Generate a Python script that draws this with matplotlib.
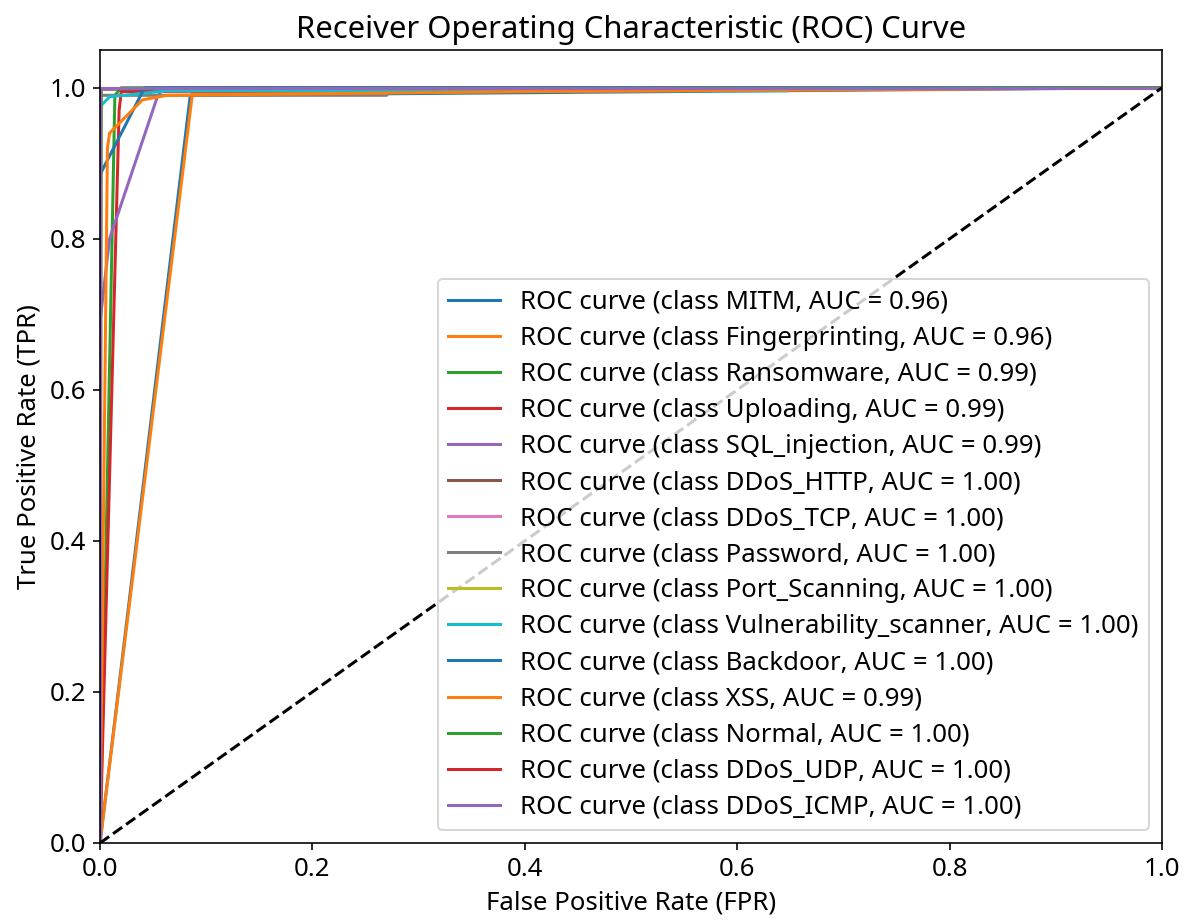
import matplotlib
matplotlib.use('Agg')
import matplotlib.pyplot as plt

plt.rcParams['font.family'] = ['Noto Sans', 'DejaVu Sans']
plt.rcParams['font.size'] = 12.8

# class names and AUC values shown in legend
classes = ['MITM', 'Fingerprinting', 'Ransomware', 'Uploading', 'SQL_injection',
           'DDoS_HTTP', 'DDoS_TCP', 'Password', 'Port_Scanning', 'Vulnerability_scanner',
           'Backdoor', 'XSS', 'Normal', 'DDoS_UDP', 'DDoS_ICMP']
aucs = [0.96, 0.96, 0.99, 0.99, 0.99, 1.00, 1.00, 1.00, 1.00, 1.00, 1.00, 0.99, 1.00, 1.00, 1.00]

# ROC points
fpr_mitm = [0, 0.085, 1]
tpr_mitm = [0, 0.99, 1]
fpr_finger = [0, 0.087, 0.40, 1]
tpr_finger = [0, 0.992, 0.995, 1]
fpr_ransom = [0, 0.003, 0.014, 0.02, 1]
tpr_ransom = [0, 0.2, 0.99, 1, 1]
fpr_upload = [0, 0.018, 0.02, 1]
tpr_upload = [0, 0.97, 0.995, 1]
fpr_sql = [0, 0, 0.009, 0.054, 0.06, 1]
tpr_sql = [0, 0.69, 0.80, 0.988, 1, 1]
fpr_http = [0, 0.001, 1]
tpr_http = [0, 0.998, 1]
fpr_tcp = [0, 0, 1]
tpr_tcp = [0, 1, 1]
fpr_pass = [0, 0, 0.27, 0.271, 1]
tpr_pass = [0, 0.99, 0.99, 1, 1]
fpr_port = [0, 0, 1]
tpr_port = [0, 1, 1]
fpr_vuln = [0, 0, 0.009, 0.063, 0.648, 0.65, 1]
tpr_vuln = [0, 0.975, 0.988, 0.996, 0.996, 1, 1]
fpr_back = [0, 0, 0.042, 1]
tpr_back = [0, 0.885, 1, 1]
fpr_xss = [0, 0.007, 0.009, 0.04, 0.063, 0.40, 1]
tpr_xss = [0, 0.92, 0.94, 0.984, 0.99, 0.995, 1]
fpr_normal = [0, 0.001, 1]
tpr_normal = [0, 0.999, 1]
fpr_udp = [0, 0, 1]
tpr_udp = [0, 1, 1]
fpr_icmp = [0, 0, 1]
tpr_icmp = [0, 1, 1]

fprs = [fpr_mitm, fpr_finger, fpr_ransom, fpr_upload, fpr_sql, fpr_http, fpr_tcp, fpr_pass,
        fpr_port, fpr_vuln, fpr_back, fpr_xss, fpr_normal, fpr_udp, fpr_icmp]
tprs = [tpr_mitm, tpr_finger, tpr_ransom, tpr_upload, tpr_sql, tpr_http, tpr_tcp, tpr_pass,
        tpr_port, tpr_vuln, tpr_back, tpr_xss, tpr_normal, tpr_udp, tpr_icmp]

fig = plt.figure(figsize=(1190 / 145, 921 / 145), dpi=145)
fig.subplots_adjust(left=100 / 1190, right=1162 / 1190, top=1 - 50 / 921, bottom=1 - 843 / 921)

for name, auc, fpr, tpr in zip(classes, aucs, fprs, tprs):
    plt.plot(fpr, tpr, label=f'ROC curve (class {name}, AUC = {auc:.2f})')

plt.plot([0, 1], [0, 1], 'k--')
plt.xlim([0.0, 1.0])
plt.ylim([0.0, 1.05])
plt.xlabel('False Positive Rate (FPR)')
plt.ylabel('True Positive Rate (TPR)')
plt.title('Receiver Operating Characteristic (ROC) Curve', fontsize=15.4)
plt.legend(loc='lower right', labelspacing=0.43)

plt.savefig('out.png', dpi=145)
